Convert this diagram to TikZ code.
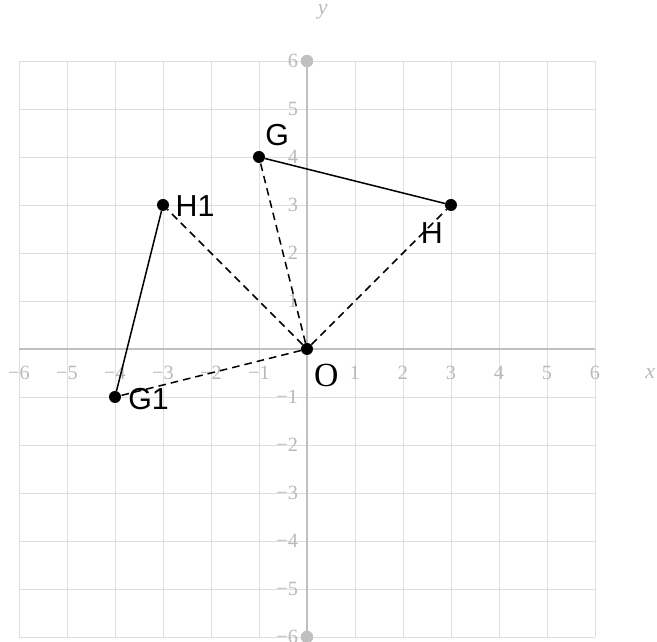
\documentclass[tikz,border=0pt]{standalone}
\usepackage{fontspec}
\setmainfont{Liberation Serif}
\newfontfamily\lblfont{Liberation Sans}
\begin{document}
\begin{tikzpicture}[x=1cm,y=1cm,
  gridline/.style={draw={rgb,255:red,222;green,222;blue,222},line width=0.5pt},
  axisline/.style={draw={rgb,255:red,192;green,192;blue,192},line width=1.3pt},
  ticklbl/.style={text={rgb,255:red,185;green,185;blue,185},font=\fontsize{12}{12}\selectfont,inner sep=0pt},
  pt/.style={circle,fill=black,inner sep=0pt,minimum size=0.25cm},
  axdot/.style={circle,fill={rgb,255:red,192;green,192;blue,192},inner sep=0pt,minimum size=0.26cm},
  ptlbl/.style={font=\lblfont\fontsize{18}{18}\selectfont,inner sep=0pt},
  seg/.style={line width=0.9pt},
  dseg/.style={line width=0.9pt,dash pattern=on 4.5pt off 3pt}]
\useasboundingbox (-6.396,-6.104) rectangle (7.292,7.271);
% grid
\foreach \i in {-6,...,6} {
  \draw[gridline] (\i,-6) -- (\i,6);
  \draw[gridline] (-6,\i) -- (6,\i);
}
% axes
\draw[axisline] (-6,0) -- (6,0);
\draw[axisline] (0,-6) -- (0,6);
\node[axdot] (ytop) at (0,6) {};
\node[axdot] (ybot) at (0,-6) {};
% tick labels
\foreach \i in {-6,...,-1} {
  \node[ticklbl] (xl\i) at (\i,-0.5) {−\the\numexpr-\i\relax};
  \node[ticklbl,anchor=east] (yl\i) at (-0.18,\i) {−\the\numexpr-\i\relax};
}
\foreach \i in {1,...,6} {
  \node[ticklbl] (xl\i) at (\i,-0.5) {\i};
  \node[ticklbl,anchor=east] (yl\i) at (-0.18,\i) {\i};
}
\node[ticklbl,font=\itshape\fontsize{13}{13}\selectfont] (xlab) at (7.15,-0.5) {x};
\node[ticklbl,font=\itshape\fontsize{13}{13}\selectfont] (ylab) at (0.33,7.02) {y};
% points
\node[pt] (O) at (0,0) {};
\node[pt] (G) at (-1,4) {};
\node[pt] (H) at (3,3) {};
\node[pt] (H1) at (-3,3) {};
\node[pt] (G1) at (-4,-1) {};
% segments
\draw[seg] (G) -- (H);
\draw[seg] (H1) -- (G1);
\draw[dseg] (O) -- (G);
\draw[dseg] (O) -- (H);
\draw[dseg] (O) -- (H1);
\draw[dseg] (O) -- (G1);
% labels
\node[ptlbl] (Gl) at (-0.62,4.46) {G};
\node[ptlbl] (H1l) at (-2.33,2.98) {H1};
\node[ptlbl] (Hl) at (2.6,2.42) {H};
\node[ptlbl] (G1l) at (-3.3,-1.04) {G1};
\node[font=\fontsize{20}{20}\selectfont,inner sep=0pt] (Ol) at (0.4,-0.56) {O};
\end{tikzpicture}
\end{document}
